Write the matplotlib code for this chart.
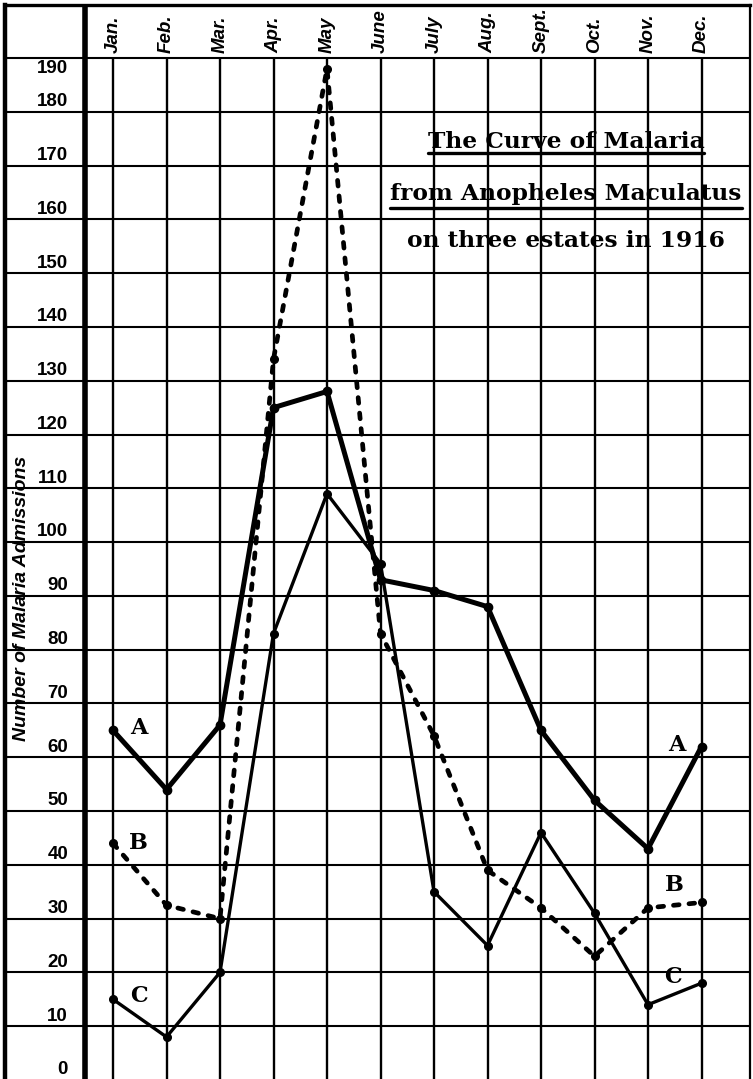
import matplotlib.pyplot as plt

# malaria admissions per month on the three estates, 1916
months = ['Jan.', 'Feb.', 'Mar.', 'Apr.', 'May', 'June',
          'July', 'Aug.', 'Sept.', 'Oct.', 'Nov.', 'Dec.']
month_pos = list(range(1, 13))

estate_a = [65, 54, 66, 125, 128, 93, 91, 88, 65, 52, 43, 62]
estate_b = [44, 32.5, 30, 134, 188, 83, 64, 39, 32, 23, 32, 33]
estate_c = [15, 8, 20, 83, 109, 96, 35, 25, 46, 31, 14, 18]

y_ticks = list(range(0, 200, 10))

curve_names = ['A', 'B', 'C']
# letters at both ends of each curve (month position, admissions)
letters_left = [(1.49, 65.4), (1.47, 44.1), (1.49, 15.6)]
letters_right = [(11.54, 62.3), (11.5, 36.3), (11.47, 19.1)]

title_lines = ['The Curve of Malaria', 'from Anopheles Maculatus',
               'on three estates in 1916']


def main():
    W, H = 753, 1079
    fig = plt.figure(figsize=(W / 100, H / 100), dpi=100)

    # frame runs from x=5px to 750px, y=5px to the bottom edge
    ax = fig.add_axes([5 / W, 0, 745 / W, 1 - 5 / H])
    month_w = 53.5        # pixels per month
    unit_h = 5.379        # pixels per admission
    ax.set_xlim(1 - 108 / month_w, 1 + 637 / month_w)
    ax.set_ylim(1 / unit_h, 1075 / unit_h)
    ax.set_xticks([])
    ax.set_yticks([])
    ax.spines['bottom'].set_visible(False)
    ax.spines['left'].set_linewidth(3.2)
    ax.spines['top'].set_linewidth(2.4)
    ax.spines['right'].set_linewidth(1.6)

    top = y_ticks[-1]
    for v in y_ticks[1:]:
        ax.axhline(v, color='black', lw=1.5, zorder=1)
    ax.vlines(month_pos, 0, top, color='black', lw=1.7, zorder=1)
    ax.axvline(1 - 28 / month_w, color='black', lw=4, zorder=1)

    num_font = dict(family='Liberation Sans', fontweight='bold', fontsize=13.5)
    label_x = 1 - 45 / month_w
    for v in y_ticks:
        if v == top:
            ax.text(label_x, v - 0.4, str(v), ha='right', va='top', **num_font)
        else:
            ax.text(label_x, v + 0.3, str(v), ha='right', va='bottom', **num_font)

    ital = dict(family='Liberation Sans', fontweight='bold', fontstyle='italic')
    for m, name in zip(month_pos, months):
        ax.text(m, top + 0.9, name, rotation=90, ha='center', va='bottom',
                fontsize=13.5, **ital)

    ax.text(1 - 91 / month_w, 89.6, 'Number of Malaria Admissions',
            rotation=90, ha='center', va='center', fontsize=14, **ital)

    # the three curves
    ax.plot(month_pos, estate_a, color='black', lw=3.6, marker='o', ms=6,
            solid_joinstyle='round', solid_capstyle='round', zorder=4)
    ax.plot(month_pos, estate_b, color='black', lw=3.4, ls=(0, (1.2, 2.1)),
            dash_capstyle='round', marker='o', ms=5.5, zorder=3)
    ax.plot(month_pos, estate_c, color='black', lw=2.4, marker='o', ms=5.5,
            solid_joinstyle='round', zorder=3)

    for name, (x1, y1), (x2, y2) in zip(curve_names, letters_left, letters_right):
        for x, y in ((x1, y1), (x2, y2)):
            ax.text(x, y, name, ha='center', va='center', family='DejaVu Serif',
                    fontweight='bold', fontsize=16, zorder=5)

    title_x = 1 + 453 / month_w
    title_y = [173.3, 163.6, 154.9]
    title_texts = []
    for line, y in zip(title_lines, title_y):
        t = ax.text(title_x, y, line, ha='center', va='baseline',
                    family='DejaVu Serif', fontweight='bold', fontsize=16.8,
                    zorder=5)
        title_texts.append(t)

    # underline the first two title lines
    fig.canvas.draw()
    inv = ax.transData.inverted()
    for t, y in zip(title_texts[:2], [172.3, 162.1]):
        bb = t.get_window_extent()
        xa = inv.transform((bb.x0, 0))[0]
        xb = inv.transform((bb.x1, 0))[0]
        ax.plot([xa, xb], [y, y], color='black', lw=2.4, solid_capstyle='round',
                zorder=5)

    fig.savefig('out.png', dpi=100)


if __name__ == "__main__":
    main()
